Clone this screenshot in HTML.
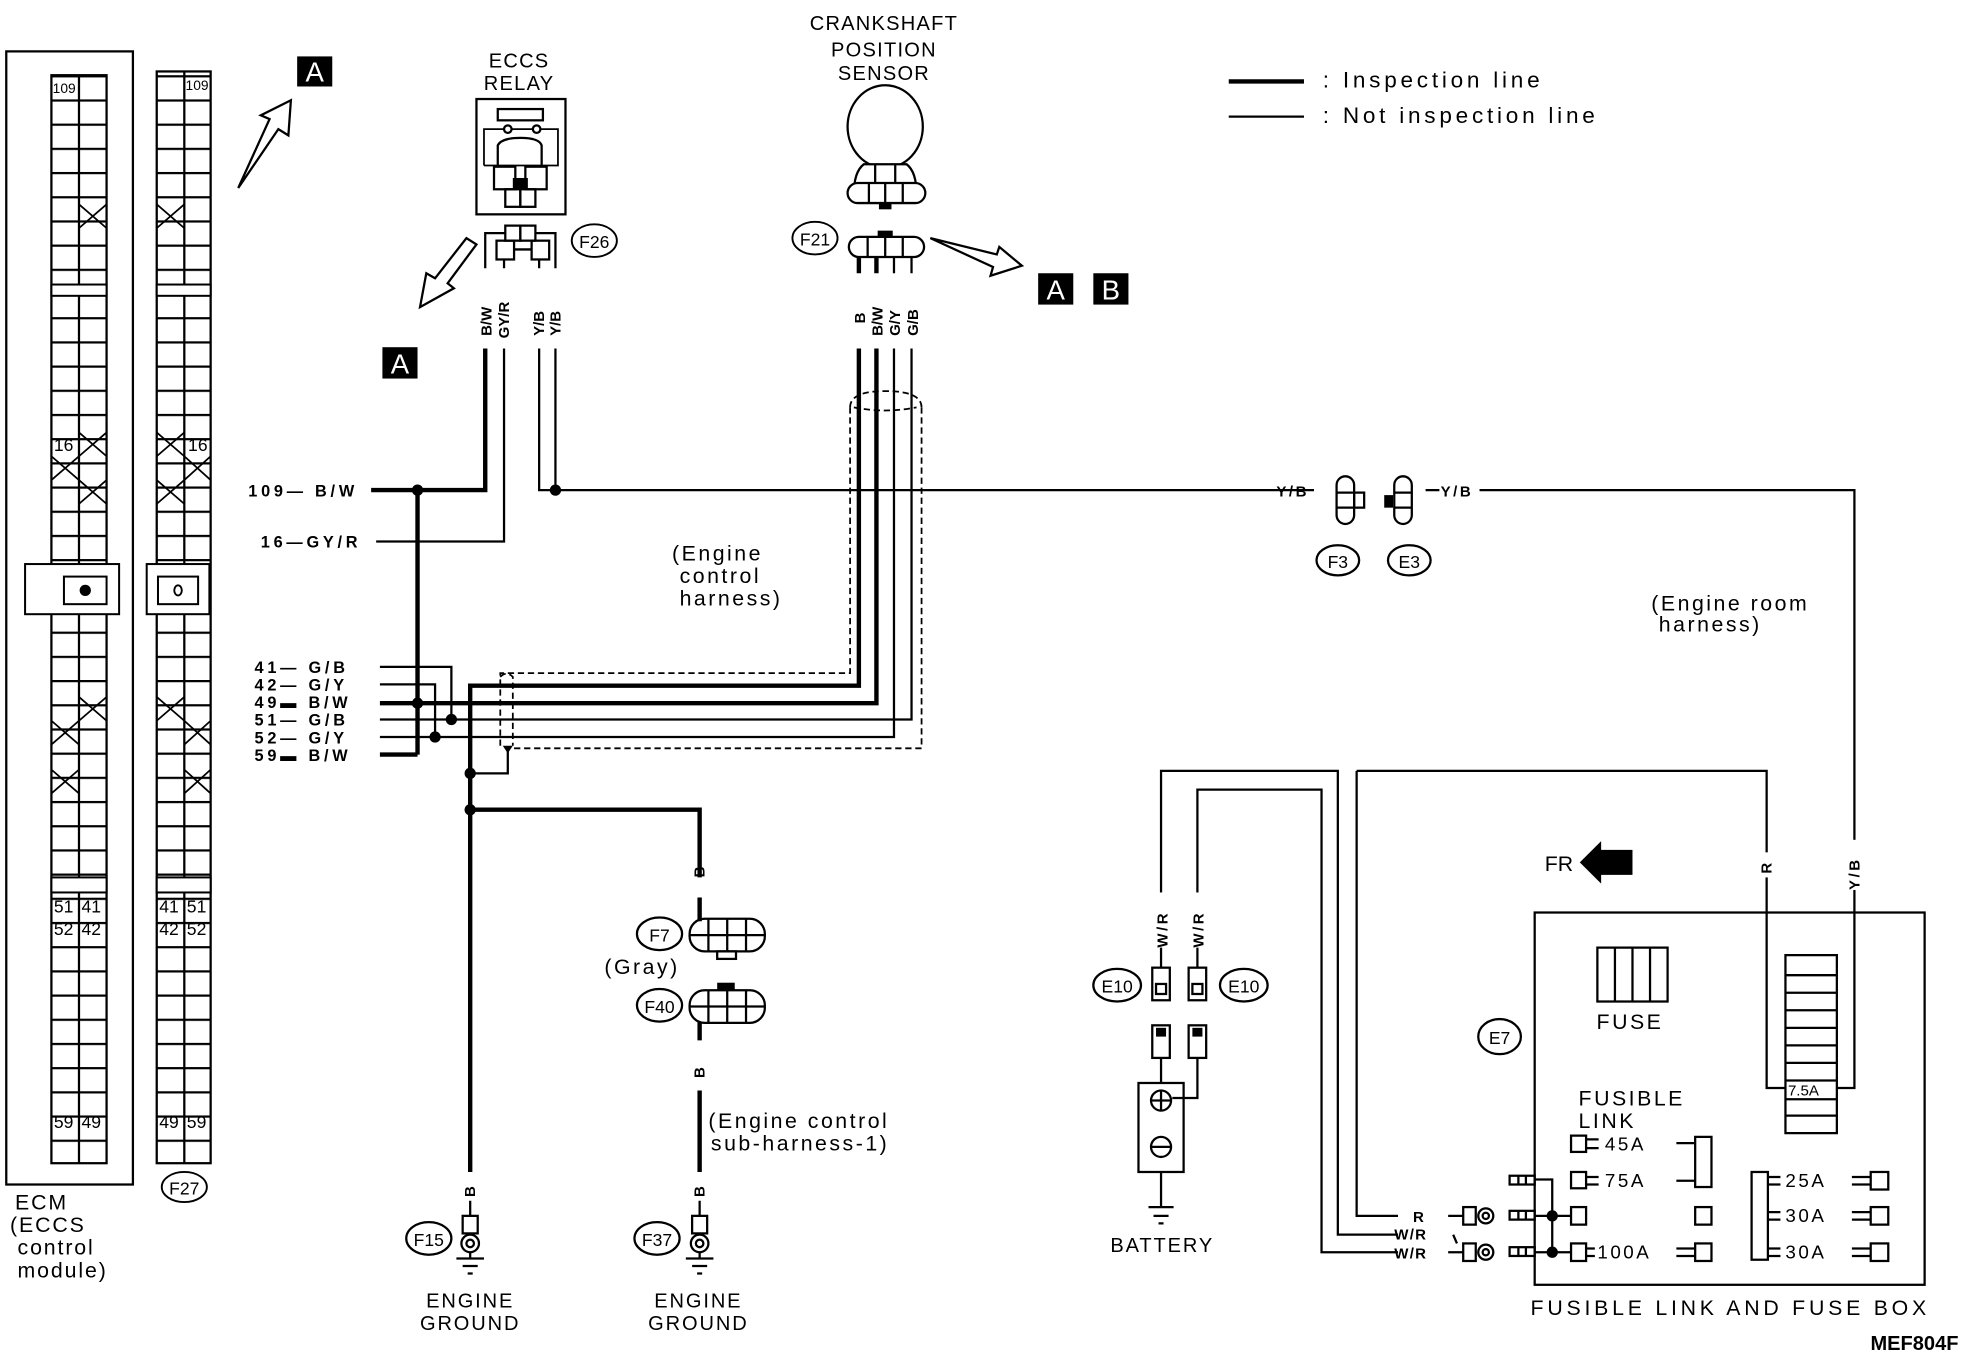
<!DOCTYPE html>
<html><head><meta charset="utf-8"><style>
html,body{margin:0;padding:0;background:#fff;}
svg{display:block;}
text{font-family:"Liberation Sans",sans-serif;fill:#000;}
</style></head><body>
<svg width="1966" height="1360" viewBox="0 0 1568 1085" preserveAspectRatio="none" xmlns="http://www.w3.org/2000/svg">
<defs>
<pattern id="rows" patternUnits="userSpaceOnUse" x="0" y="60" width="200" height="19.3">
<line x1="0" y1="0.9" x2="200" y2="0.9" stroke="#000" stroke-width="1.8"/>
</pattern>
</defs>
<rect width="1568" height="1085" fill="#fff"/>
<g fill="none" stroke="#000" stroke-width="1.8">
<rect x="5" y="41" width="101" height="904"/>
<rect x="41" y="60" width="44" height="868" fill="url(#rows)"/>
<line x1="63" y1="60" x2="63" y2="928"/>
<rect x="125" y="57" width="43" height="871" fill="url(#rows)"/>
<line x1="147" y1="57" x2="147" y2="928"/>
</g>
<g fill="#fff" stroke="#000" stroke-width="1.6">
<rect x="41" y="227" width="44" height="9"/>
<rect x="125" y="227" width="43" height="9"/>
<rect x="41" y="700" width="44" height="12"/>
<rect x="125" y="700" width="43" height="12"/>
<rect x="20" y="450" width="75" height="40"/>
<rect x="51" y="460" width="34" height="22"/>
<rect x="117" y="450" width="50" height="40"/>
<rect x="126" y="460" width="32" height="22"/>
</g>
<circle cx="68" cy="471" r="4.5" fill="#000"/>
<ellipse cx="142" cy="471" rx="3" ry="4" fill="none" stroke="#000" stroke-width="1.5"/>
<g stroke="#000" stroke-width="1.4">
<path d="M63 163 L85 182 M85 163 L63 182"/>
<path d="M63 345 L85 364 M85 345 L63 364"/>
<path d="M41 364 L63 383 M63 364 L41 383"/>
<path d="M63 383 L85 402 M85 383 L63 402"/>
<path d="M63 556 L85 575 M85 556 L63 575"/>
<path d="M41 575 L63 594 M63 575 L41 594"/>
<path d="M41 614 L63 633 M63 614 L41 633"/>
<path d="M125 163 L147 182 M147 163 L125 182"/>
<path d="M125 345 L147 364 M147 345 L125 364"/>
<path d="M147 364 L168 383 M168 364 L147 383"/>
<path d="M125 383 L147 402 M147 383 L125 402"/>
<path d="M125 556 L147 575 M147 556 L125 575"/>
<path d="M147 575 L168 594 M168 575 L147 594"/>
<path d="M147 614 L168 633 M168 614 L147 633"/>
</g>
<g font-size="14">
<text x="42" y="74" font-size="11">109</text>
<text x="148" y="72" font-size="11">109</text>
<text x="43" y="360">16</text>
<text x="150" y="360">16</text>
<text x="43" y="728">51</text><text x="65" y="728">41</text>
<text x="43" y="746">52</text><text x="65" y="746">42</text>
<text x="43" y="900">59</text><text x="65" y="900">49</text>
<text x="127" y="728">41</text><text x="149" y="728">51</text>
<text x="127" y="746">42</text><text x="149" y="746">52</text>
<text x="127" y="900">49</text><text x="149" y="900">59</text>
</g>
<ellipse cx="147" cy="947" rx="18" ry="12" fill="none" stroke="#000" stroke-width="1.5"/>
<text x="147" y="953" font-size="14" text-anchor="middle">F27</text>
<g font-size="17" letter-spacing="1.5">
<text x="12" y="965">ECM</text>
<text x="8" y="983">(ECCS</text>
<text x="14" y="1001">control</text>
<text x="14" y="1019">module)</text>
</g>
<rect x="237" y="45" width="28" height="24" fill="#000"/><text x="251" y="65" font-size="22" text-anchor="middle" style="fill:#fff">A</text>
<rect x="305" y="277" width="28" height="25" fill="#000"/><text x="319" y="298" font-size="22" text-anchor="middle" style="fill:#fff">A</text>
<rect x="828" y="218" width="28" height="25" fill="#000"/><text x="842" y="239" font-size="22" text-anchor="middle" style="fill:#fff">A</text>
<rect x="872" y="218" width="28" height="25" fill="#000"/><text x="886" y="239" font-size="22" text-anchor="middle" style="fill:#fff">B</text>
<g fill="#fff" stroke="#000" stroke-width="1.8">
<path d="M190 150 L215 95 L208 92 L232 80 L230 108 L222 103 Z"/>
<path d="M380 195 L357 226 L362 230 L335 245 L340 218 L347 222 L372 190 Z"/>
<path d="M742 190 L795 203 L797 197 L815 212 L790 220 L792 213 Z"/>
</g>
<text x="414" y="54" font-size="16" text-anchor="middle" letter-spacing="1">ECCS</text>
<text x="414" y="72" font-size="16" text-anchor="middle" letter-spacing="1">RELAY</text>
<g fill="none" stroke="#000" stroke-width="1.8">
<rect x="380" y="79" width="71" height="92"/>
<rect x="397" y="87" width="36" height="9"/>
<path d="M386 132 L386 103 L445 103 L445 132 L386 132" stroke-width="1.4"/>
<circle cx="405" cy="103" r="3" fill="#fff"/><circle cx="428" cy="103" r="3" fill="#fff"/>
<path d="M397 145 L397 116 Q400 110 415 110 Q430 110 432 116 L432 145"/>
<rect x="394" y="133" width="17" height="18" fill="#fff"/><rect x="419" y="133" width="17" height="18" fill="#fff"/>
<rect x="403" y="151" width="12" height="14"/><rect x="415" y="151" width="12" height="14"/>
<rect x="403" y="180" width="12" height="12"/><rect x="415" y="180" width="12" height="12"/>
<rect x="396" y="192" width="14" height="15"/><rect x="424" y="192" width="14" height="15"/>
<path d="M410 199 L424 199"/>
<path d="M387 214 L387 186 L403 186 M427 186 L443 186 L443 214"/>
<line x1="402" y1="207" x2="402" y2="214"/><line x1="430" y1="207" x2="430" y2="214"/>
</g>
<rect x="409" y="142" width="12" height="9" fill="#000"/>
<ellipse cx="474" cy="192" rx="18" ry="13" fill="none" stroke="#000" stroke-width="1.5"/>
<text x="474" y="198" font-size="14" text-anchor="middle">F26</text>
<g font-size="12" font-weight="bold">
<text transform="translate(392,268) rotate(-90)">B/W</text>
<text transform="translate(406,270) rotate(-90)">GY/R</text>
<text transform="translate(434,268) rotate(-90)">Y/B</text>
<text transform="translate(447,268) rotate(-90)">Y/B</text>
</g>
<g font-size="16" text-anchor="middle" letter-spacing="1">
<text x="705" y="24">CRANKSHAFT</text>
<text x="705" y="45">POSITION</text>
<text x="705" y="64">SENSOR</text>
</g>
<g fill="none" stroke="#000" stroke-width="1.8">
<ellipse cx="706" cy="101" rx="30" ry="33"/>
<path d="M689 131 Q681 137 681 155 L731 155 Q731 137 723 131 Z" fill="#fff"/>
<line x1="698" y1="131" x2="698" y2="155"/><line x1="714" y1="131" x2="714" y2="155"/>
<rect x="676" y="146" width="62" height="16" rx="8" fill="#fff"/>
<line x1="693" y1="146" x2="693" y2="162"/><line x1="706" y1="146" x2="706" y2="162"/><line x1="720" y1="146" x2="720" y2="162"/>
<rect x="677" y="189" width="60" height="16" rx="8" fill="#fff"/>
<line x1="692" y1="189" x2="692" y2="205"/><line x1="706" y1="189" x2="706" y2="205"/><line x1="720" y1="189" x2="720" y2="205"/>
</g>
<rect x="701" y="162" width="10" height="5" fill="#000"/>
<rect x="700" y="184" width="12" height="5" fill="#000"/>
<ellipse cx="650" cy="190" rx="18" ry="13" fill="none" stroke="#000" stroke-width="1.5"/>
<text x="650" y="196" font-size="14" text-anchor="middle">F21</text>
<g stroke="#000">
<line x1="685" y1="205" x2="685" y2="218" stroke-width="3.5"/>
<line x1="699" y1="205" x2="699" y2="218" stroke-width="3.5"/>
<line x1="713" y1="205" x2="713" y2="218" stroke-width="1.8"/>
<line x1="727" y1="205" x2="727" y2="218" stroke-width="1.8"/>
</g>
<g font-size="12" font-weight="bold">
<text transform="translate(690,258) rotate(-90)">B</text>
<text transform="translate(704,268) rotate(-90)">B/W</text>
<text transform="translate(718,268) rotate(-90)">G/Y</text>
<text transform="translate(732,268) rotate(-90)">G/B</text>
</g>
<line x1="980" y1="65" x2="1040" y2="65" stroke="#000" stroke-width="3.5"/>
<line x1="980" y1="93" x2="1040" y2="93" stroke="#000" stroke-width="1.8"/>
<text x="1055" y="70" font-size="18" letter-spacing="3">:  Inspection line</text>
<text x="1055" y="98" font-size="18" letter-spacing="3">:  Not inspection line</text>
<g fill="none" stroke="#000" stroke-width="3.5">
<path d="M387 278 L387 391 L296 391"/>
<path d="M333 391 L333 602"/>
<path d="M303 561 L699 561 L699 278"/>
<path d="M685 278 L685 547 L375 547 L375 935"/>
<path d="M303 602 L333 602"/>
<path d="M375 646 L558 646 L558 700"/>
<path d="M558 716 L558 735"/>
<path d="M558 815 L558 830"/>
<path d="M558 870 L558 935"/>
</g>
<g fill="none" stroke="#000" stroke-width="1.8">
<path d="M402 278 L402 432 L300 432"/>
<path d="M430 278 L430 391 L1048 391"/>
<path d="M443 278 L443 391"/>
<path d="M1137 391 L1148 391 M1180 391 L1479 391 L1479 868 L1465 868"/>
<path d="M303 532 L360 532 L360 574"/>
<path d="M303 546 L347 546 L347 588"/>
<path d="M303 574 L727 574 L727 278"/>
<path d="M303 588 L713 588 L713 278"/>
<path d="M375 617 L405 617 L405 597"/>
</g>
<g fill="#000">
<circle cx="333" cy="391" r="4.5"/><circle cx="443" cy="391" r="4.5"/>
<circle cx="333" cy="561" r="4.5"/><circle cx="360" cy="574" r="4.5"/><circle cx="347" cy="588" r="4.5"/>
<circle cx="375" cy="617" r="4.5"/><circle cx="375" cy="646" r="4.5"/>
</g>
<path d="M401 595 L409 595 L405 601 Z" fill="#000"/>
<g fill="none" stroke="#000" stroke-width="1.4" stroke-dasharray="5,3">
<path d="M678 325 L678 537 L399 537 L399 597"/>
<path d="M735 325 L735 597 L410 597"/>
<path d="M678 325 Q678 312 706 312 Q735 312 735 325"/>
<path d="M681 325 Q706 330 731 325"/>
<path d="M399 540 Q404 535 409 540 L409 595"/>
</g>
<g font-size="13" font-weight="bold" letter-spacing="3">
<text x="198" y="396">109— B/W</text>
<text x="208" y="437">16—GY/R</text>
<text x="203" y="537">41— G/B</text>
<text x="203" y="551">42— G/Y</text>
<text x="203" y="565">49▬ B/W</text>
<text x="203" y="579">51— G/B</text>
<text x="203" y="593">52— G/Y</text>
<text x="203" y="607">59▬ B/W</text>
</g>
<g font-size="17" letter-spacing="2">
<text x="536" y="447">(Engine</text>
<text x="542" y="465">control</text>
<text x="542" y="483">harness)</text>
<text x="1317" y="487">(Engine room</text>
<text x="1323" y="504">harness)</text>
<text x="565" y="900">(Engine control</text>
<text x="567" y="918">sub-harness-1)</text>
<text x="482" y="777">(Gray)</text>
</g>
<text x="1031" y="396" font-size="12" font-weight="bold" text-anchor="middle" letter-spacing="2">Y/B</text>
<text x="1162" y="396" font-size="12" font-weight="bold" text-anchor="middle" letter-spacing="2">Y/B</text>
<g fill="none" stroke="#000" stroke-width="1.8">
<rect x="1066" y="380" width="14" height="38" rx="7"/><line x1="1066" y1="393" x2="1080" y2="393"/><line x1="1066" y1="405" x2="1080" y2="405"/>
<rect x="1080" y="393" width="8" height="12"/>
<rect x="1112" y="380" width="14" height="38" rx="7"/><line x1="1112" y1="393" x2="1126" y2="393"/><line x1="1112" y1="405" x2="1126" y2="405"/>
<ellipse cx="1067" cy="447" rx="17" ry="12"/><ellipse cx="1124" cy="447" rx="17" ry="12"/>
</g>
<rect x="1104" y="395" width="7" height="10" fill="#000"/>
<text x="1067" y="453" font-size="14" text-anchor="middle">F3</text>
<text x="1124" y="453" font-size="14" text-anchor="middle">E3</text>
<text transform="translate(562,700) rotate(-90)" font-size="12" font-weight="bold">B</text>
<text transform="translate(562,860) rotate(-90)" font-size="12" font-weight="bold">B</text>
<g fill="none" stroke="#000" stroke-width="1.8">
<rect x="550" y="733" width="60" height="26" rx="12"/>
<line x1="565" y1="733" x2="565" y2="759"/><line x1="580" y1="733" x2="580" y2="759"/><line x1="595" y1="733" x2="595" y2="759"/>
<line x1="550" y1="746" x2="610" y2="746"/>
<rect x="572" y="759" width="15" height="6"/>
<rect x="550" y="790" width="60" height="26" rx="12"/>
<line x1="565" y1="790" x2="565" y2="816"/><line x1="580" y1="790" x2="580" y2="816"/><line x1="595" y1="790" x2="595" y2="816"/>
<line x1="550" y1="803" x2="610" y2="803"/>
<ellipse cx="526" cy="745" rx="18" ry="13"/><ellipse cx="526" cy="802" rx="18" ry="13"/>
</g>
<rect x="572" y="784" width="14" height="6" fill="#000"/>
<text x="526" y="751" font-size="14" text-anchor="middle">F7</text>
<text x="526" y="808" font-size="14" text-anchor="middle">F40</text>
<g font-size="12" font-weight="bold">
<text transform="translate(379,955) rotate(-90)">B</text>
<text transform="translate(562,955) rotate(-90)">B</text>
</g>
<g fill="none" stroke="#000" stroke-width="1.8">
<path d="M375 958 L375 970 M558 958 L558 970"/>
<rect x="369" y="970" width="12" height="14"/><rect x="552" y="970" width="12" height="14"/>
<circle cx="375" cy="992" r="7"/><circle cx="375" cy="992" r="3"/>
<circle cx="558" cy="992" r="7"/><circle cx="558" cy="992" r="3"/>
<path d="M375 999 L375 1004 M364 1004 L386 1004 M369 1010 L381 1010 M373 1016 L377 1016"/>
<path d="M558 999 L558 1004 M547 1004 L569 1004 M552 1010 L564 1010 M556 1016 L560 1016"/>
<ellipse cx="342" cy="988" rx="18" ry="13"/><ellipse cx="524" cy="988" rx="18" ry="13"/>
</g>
<text x="342" y="994" font-size="14" text-anchor="middle">F15</text>
<text x="524" y="994" font-size="14" text-anchor="middle">F37</text>
<g font-size="16" text-anchor="middle" letter-spacing="1.5">
<text x="375" y="1043">ENGINE</text><text x="375" y="1061">GROUND</text>
<text x="557" y="1043">ENGINE</text><text x="557" y="1061">GROUND</text>
</g>
<g fill="none" stroke="#000" stroke-width="1.8">
<path d="M926 772 L926 615 L1067 615 L1067 985 L1115 985"/>
<path d="M955 772 L955 630 L1054 630 L1054 999 L1115 999"/>
<path d="M1082 615 L1409 615 L1409 868 L1424 868"/>
<path d="M1082 615 L1082 970 L1115 970"/>
</g>
<g fill="#fff"><rect x="1400" y="680" width="18" height="20"/><rect x="1470" y="670" width="18" height="40"/><rect x="918" y="712" width="18" height="44"/><rect x="947" y="712" width="18" height="44"/></g>
<g font-size="12" font-weight="bold">
<text transform="translate(1413,697) rotate(-90)">R</text>
<text transform="translate(1483,710) rotate(-90)" letter-spacing="2">Y/B</text>
<text transform="translate(931,756) rotate(-90)" letter-spacing="2">W/R</text>
<text transform="translate(960,756) rotate(-90)" letter-spacing="2">W/R</text>
</g>
<text x="1232" y="695" font-size="17">FR</text>
<path d="M1260 688 L1277 671 L1277 678 L1302 678 L1302 698 L1277 698 L1277 705 Z" fill="#000"/>
<g fill="none" stroke="#000" stroke-width="1.8">
<rect x="919" y="772" width="14" height="26"/><rect x="922" y="785" width="8" height="8"/>
<rect x="948" y="772" width="14" height="26"/><rect x="951" y="785" width="8" height="8"/>
<ellipse cx="891" cy="786" rx="19" ry="13"/><ellipse cx="992" cy="786" rx="19" ry="13"/>
<rect x="919" y="818" width="14" height="26"/><rect x="948" y="818" width="14" height="26"/>
<path d="M926 844 L926 864 M955 844 L955 876 L935 876"/>
<rect x="908" y="864" width="36" height="71"/>
<circle cx="926" cy="878" r="8"/><path d="M918 878 L934 878 M926 870 L926 886"/>
<circle cx="926" cy="915" r="8"/><path d="M918 915 L934 915"/>
<path d="M926 935 L926 963 M916 963 L936 963 M920 970 L932 970 M924 976 L928 976"/>
</g>
<rect x="922" y="820" width="8" height="7" fill="#000"/><rect x="951" y="820" width="8" height="7" fill="#000"/>
<text x="891" y="792" font-size="14" text-anchor="middle">E10</text>
<text x="992" y="792" font-size="14" text-anchor="middle">E10</text>
<text x="927" y="999" font-size="16" text-anchor="middle" letter-spacing="1.5">BATTERY</text>
<g fill="none" stroke="#000" stroke-width="1.8">
<rect x="1224" y="728" width="311" height="297"/>
<rect x="1274" y="756" width="56" height="43"/>
<path d="M1288 756 L1288 799 M1302 756 L1302 799 M1316 756 L1316 799"/>
<rect x="1424" y="762" width="41" height="142"/>
<path d="M1424 778 L1465 778 M1424 792 L1465 792 M1424 806 L1465 806 M1424 820 L1465 820 M1424 834 L1465 834 M1424 848 L1465 848 M1424 862 L1465 862 M1424 877 L1465 877 M1424 890 L1465 890"/>
<ellipse cx="1196" cy="827" rx="17" ry="14"/>
<rect x="1253" y="906" width="12" height="13"/><path d="M1265 909 L1275 909 M1265 916 L1275 916"/>
<rect x="1253" y="935" width="12" height="13"/><path d="M1265 939 L1275 939 M1265 945 L1275 945"/>
<rect x="1253" y="963" width="12" height="14"/>
<rect x="1253" y="992" width="12" height="14"/><path d="M1265 996 L1272 996 M1265 1002 L1272 1002"/>
<rect x="1352" y="907" width="13" height="40"/><path d="M1337 912 L1352 912 M1337 942 L1352 942"/>
<rect x="1352" y="963" width="13" height="14"/>
<rect x="1352" y="992" width="13" height="14"/><path d="M1337 996 L1352 996 M1337 1002 L1352 1002"/>
<rect x="1397" y="935" width="13" height="70"/>
<path d="M1410 939 L1420 939 M1410 945 L1420 945 M1410 967 L1420 967 M1410 973 L1420 973 M1410 996 L1420 996 M1410 1002 L1420 1002"/>
<rect x="1492" y="935" width="14" height="14"/><path d="M1477 939 L1492 939 M1477 945 L1492 945"/>
<rect x="1492" y="963" width="14" height="14"/><path d="M1477 967 L1492 967 M1477 973 L1492 973"/>
<rect x="1492" y="992" width="14" height="14"/><path d="M1477 996 L1492 996 M1477 1002 L1492 1002"/>
<rect x="1204" y="938" width="20" height="7"/><path d="M1211 938 L1211 945 M1217 938 L1217 945"/>
<rect x="1204" y="966" width="20" height="7"/><path d="M1211 966 L1211 973 M1217 966 L1217 973"/>
<rect x="1204" y="995" width="20" height="7"/><path d="M1211 995 L1211 1002 M1217 995 L1217 1002"/>
<path d="M1224 941 L1238 941 L1238 999 M1224 970 L1253 970 M1224 999 L1253 999"/>
<rect x="1167" y="963" width="10" height="14"/><circle cx="1185" cy="970" r="6"/><circle cx="1185" cy="970" r="2.5"/>
<rect x="1167" y="992" width="10" height="14"/><circle cx="1185" cy="999" r="6"/><circle cx="1185" cy="999" r="2.5"/>
<path d="M1155 970 L1167 970 M1155 999 L1167 999 M1159 985 L1162 992"/>
</g>
<circle cx="1238" cy="970" r="4.5"/><circle cx="1238" cy="999" r="4.5"/>
<text x="1196" y="833" font-size="14" text-anchor="middle">E7</text>
<g font-size="15" letter-spacing="2">
<text x="1280" y="918">45A</text><text x="1280" y="947">75A</text><text x="1274" y="1004">100A</text>
<text x="1424" y="947">25A</text><text x="1424" y="975">30A</text><text x="1424" y="1004">30A</text>
</g>
<text x="1426" y="874" font-size="12">7.5A</text>
<text x="1300" y="821" font-size="17" text-anchor="middle" letter-spacing="2">FUSE</text>
<text x="1259" y="882" font-size="17" letter-spacing="2">FUSIBLE</text>
<text x="1259" y="900" font-size="17" letter-spacing="2">LINK</text>
<g font-size="12" font-weight="bold" letter-spacing="1">
<text x="1127" y="975">R</text><text x="1112" y="989">W/R</text><text x="1112" y="1004">W/R</text>
</g>
<text x="1380" y="1049" font-size="17" text-anchor="middle" letter-spacing="3">FUSIBLE LINK AND FUSE BOX</text>
<text x="1562" y="1077" font-size="16" font-weight="bold" text-anchor="end">MEF804F</text>
</svg>
</body></html>
